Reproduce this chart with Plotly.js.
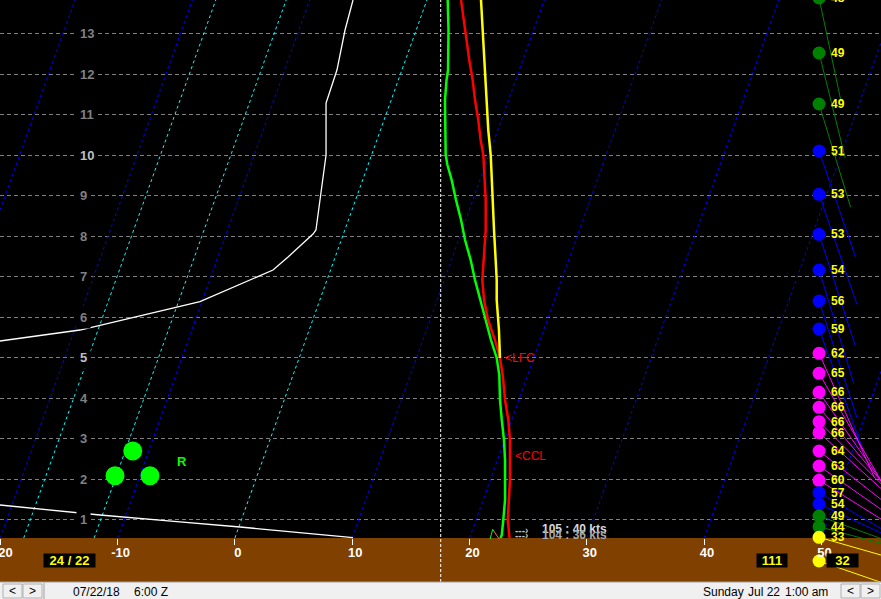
<!DOCTYPE html>
<html><head><meta charset="utf-8">
<script src="https://cdn.plot.ly/plotly-3.0.1.min.js"></script>
<style>html,body{margin:0;padding:0;background:#000;overflow:hidden;width:881px;height:599px}#chart{width:881px;height:619px;margin-top:-20px}</style>
</head><body><div id="chart"></div>
<script>
// ---------- data ----------
const xTickVals = [-20,-10,0,10,20,30,40,50];
const xTickText = ['-20','-10','0','10','20','30','40','50'];
const heightTicks = [1,2,3,4,5,6,7,8,9,10,11,12,13];
const isothermsBlue = [-30,-20,-10,10,20,30,40,50];
const isothermsCyan = [-18,-12,0];

const redH = [13.835,13.094,12.353,11.859,11.365,10.871,10.378,10.007,9.637,8.896,8.155,7.414,6.920,6.426,5.932,5.438,4.994,4.574,3.957,3.463,2.969,1.975,1.487,0.993,0.622,0.548];
const redX = [19.28,19.62,19.98,20.27,20.47,20.75,20.95,21.18,21.26,21.38,21.38,21.18,21.09,21.24,21.58,22.17,22.60,22.83,23.03,23.31,23.45,23.45,23.37,23.26,23.39,23.41];

const greenH = [13.835,13.094,12.106,11.859,11.365,10.131,10.007,9.760,9.390,8.896,8.402,7.908,7.414,6.920,6.426,5.932,5.438,4.994,4.574,3.957,3.463,2.969,2.469,1.487,0.993,0.622,0.548];
const greenX = [18.14,18.21,18.17,18.04,17.91,17.91,17.97,18.12,18.48,18.85,19.28,19.62,20.10,20.47,20.90,21.38,21.83,22.32,22.54,22.60,22.75,22.94,23.03,23.03,22.88,22.75,22.64];

const yellowH = [13.835,13.094,12.106,11.365,10.624,10.007,9.390,8.896,8.155,7.414,6.920,6.426,5.685,4.994];
const yellowX = [20.98,21.13,21.32,21.47,21.60,21.81,21.89,21.98,22.09,22.23,22.32,22.32,22.51,22.60];

const whiteLowH = [1.363,1.116,0.951,0.820,0.556];
const whiteLowX = [-20.03,-11.50,-4.94,0.43,10.07];
const whiteUpH = [5.414,5.685,6.384,7.167,7.488,8.056,8.155,8.896,9.563,10.007,11.291,11.439,12.106,13.094,13.835];
const whiteUpX = [-20.03,-13.21,-2.98,3.25,4.53,6.66,6.91,7.25,7.51,7.77,7.77,7.94,8.70,9.39,10.07];

const rainX = [-8.71,-10.22,-7.24];
const rainH = [2.697,2.087,2.087];

const parcelMarkGreenX = [21.75,21.98], parcelMarkGreenH = [0.516,0.763];
const parcelMarkRedX = [21.98,22.54], parcelMarkRedH = [0.763,0.516];

const windH = [13.885,12.527,11.267,10.106,9.037,8.049,7.167,6.402,5.710,5.110,4.616,4.147,3.776,3.421,3.149,2.697,2.327,1.973,1.667,1.388,1.092,0.827,0.566,-0.020];
const windSpd = [48,49,49,51,53,53,54,56,59,62,65,66,66,66,66,64,63,60,57,54,49,44,33,32];
const windAng = [78,76,73,71,71,72,73,72,70,66,60,55,50,45,42,38,35,32,30,25,20,15,16,19];
const windColX = 49.8;

// ---------- layout calibration ----------
const W = 881, VIS_H = 599, CUT = 20, H = VIS_H + CUT;   // top CUT px of the figure lie above the window
const PX0 = 234.9, PXK = 11.73;            // page px = PX0 + PXK * x
const PY0 = 560.2, PYK = 40.49;            // page py = PY0 - PYK * h
const XMIN = (0 - PX0) / PXK, XMAX = (W - PX0) / PXK;
const YMIN = (PY0 - VIS_H) / PYK, YMAX = (PY0 + CUT) / PYK;
const GROUND = 0.548, GROUND_TOP = 13.835;
const SKEW = 1.232;
const FONT = 'Liberation Sans, Arial, sans-serif';
const px2x = p => (p - PX0) / PXK;
const pyPaper = p => 1 - (p + CUT) / H;

function isoTrace(temps, color) {
  const x = [], y = [];
  temps.forEach(t => { x.push(t, t + SKEW * (YMAX - GROUND), null); y.push(GROUND, YMAX, null); });
  return {x, y, mode: 'lines', line: {color, width: 1, dash: '3px,3px'}, hoverinfo: 'skip'};
}
function spdColor(s) { return s < 40 ? '#ffff00' : s < 50 ? '#008000' : s < 60 ? '#0000ff' : '#ff00ff'; }

const traces = [];
traces.push(isoTrace(isothermsBlue, '#0000ff'));
traces.push(isoTrace(isothermsCyan, '#00ffff'));
traces.push({x: whiteLowX, y: whiteLowH, mode: 'lines', line: {color: '#ffffff', width: 1.3}});
traces.push({x: whiteUpX, y: whiteUpH, mode: 'lines', line: {color: '#ffffff', width: 1.3}});

const stickGroups = {};
windH.forEach((h, i) => {
  const c = spdColor(windSpd[i]);
  const L = 2.2 * windSpd[i];
  const a = windAng[i] * Math.PI / 180;
  const g = stickGroups[c] || (stickGroups[c] = {x: [], y: []});
  g.x.push(windColX, windColX + L * Math.cos(a) / PXK, null);
  g.y.push(h, h - L * Math.sin(a) / PYK, null);
});
Object.keys(stickGroups).forEach(c => traces.push({x: stickGroups[c].x, y: stickGroups[c].y, mode: 'lines', line: {color: c, width: 1}}));

traces.push({x: greenX, y: greenH, mode: 'lines', line: {color: '#00ff00', width: 2.5}});
traces.push({x: redX, y: redH, mode: 'lines', line: {color: '#ff0000', width: 2.5}});
traces.push({x: yellowX, y: yellowH, mode: 'lines', line: {color: '#ffff00', width: 2.5}});
traces.push({x: parcelMarkGreenX, y: parcelMarkGreenH, mode: 'lines', line: {color: '#00ff00', width: 1}});
traces.push({x: parcelMarkRedX, y: parcelMarkRedH, mode: 'lines', line: {color: '#ff6060', width: 1}});
traces.push({x: rainX, y: rainH, mode: 'markers', marker: {color: '#00ff00', size: 19, line: {width: 0}}});
traces.push({x: windH.map(() => windColX), y: windH, mode: 'markers', cliponaxis: false,
  marker: {color: windSpd.map(spdColor), size: 13, line: {width: 0}}});

// ---------- annotations ----------
const ann = [];
heightTicks.forEach(h => ann.push({xref: 'paper', yref: 'y', x: 76 / W, y: h, xanchor: 'left', yanchor: 'middle',
  text: String(h), showarrow: false, bgcolor: '#000000', borderpad: 3,
  font: {family: FONT, size: 13, weight: 'bold', color: (h === 5 || h === 10) ? '#c0c0c0' : '#808080'}}));
windH.forEach((h, i) => {
  if (i === windH.length - 1) return;
  ann.push({xref: 'x', yref: 'y', x: windColX, y: h, xshift: 11, xanchor: 'left', yanchor: 'middle',
    text: String(windSpd[i]), showarrow: false, borderpad: 0,
    font: {family: FONT, size: 12, weight: 'bold', color: '#ffff00'}});
});
function boxLabel(cx, cy, w, text) {
  ann.push({xref: 'paper', yref: 'paper', x: cx / W, y: pyPaper(cy), xanchor: 'center', yanchor: 'middle',
    text, showarrow: false, bgcolor: '#000000', width: w, height: 13, borderpad: 0, align: 'center',
    font: {family: FONT, size: 13, weight: 'bold', color: '#ffff00'}});
}
boxLabel(69.5, 560.5, 51, '24 / 22');
boxLabel(772, 560.5, 30, '111');
boxLabel(842.5, 560.5, 31, String(windSpd[windSpd.length - 1]));

function pText(x, y, text, color, size, weight, anchor) {
  ann.push({xref: 'paper', yref: 'paper', x: x / W, y: pyPaper(y), xanchor: anchor || 'left', yanchor: 'middle',
    text, showarrow: false, borderpad: 0, font: {family: FONT, size, weight: weight || 'normal', color}});
}
pText(504, 358, '&lt;LFC', '#ff0000', 12);
pText(514, 456, '&lt;CCL', '#ff0000', 12);
pText(176, 461, 'R', '#00ff00', 13, 'bold');
pText(514, 530, '---›', '#c0c0c0', 10, 'bold');
pText(514, 535, '---›', '#c0c0c0', 10, 'bold');
pText(541, 529, '105 : 40 kts', '#d8d8d8', 12, 'bold');
pText(541, 535, '104 : 36 kts', '#a8a8a8', 12, 'bold');
pText(72, 591.5, '07/22/18', '#000000', 12);
pText(133, 591.5, '6:00 Z', '#000000', 12);
pText(702, 591.5, 'Sunday', '#000000', 12);
pText(747, 591.5, 'Jul 22', '#000000', 12);
pText(784, 591.5, '1:00 am', '#000000', 12);
pText(12.5, 591, '&lt;', '#000000', 12, 'normal', 'center');
pText(32.5, 591, '&gt;', '#000000', 12, 'normal', 'center');
pText(850.5, 591, '&lt;', '#000000', 12, 'normal', 'center');
pText(870.5, 591, '&gt;', '#000000', 12, 'normal', 'center');

// ---------- shapes ----------
const shapes = [
  {type: 'rect', layer: 'below', xref: 'paper', yref: 'y', x0: 0, x1: 1, y0: YMIN, y1: GROUND, fillcolor: '#804000', line: {width: 0}},
  {type: 'line', layer: 'above', xref: 'paper', yref: 'paper', x0: 440.7 / W, x1: 440.7 / W, y0: pyPaper(582), y1: 1, line: {color: '#ffffff', width: 1, dash: '3px,2px'}},
  {type: 'rect', layer: 'above', xref: 'paper', yref: 'paper', x0: 0, x1: 1, y0: 0, y1: pyPaper(582), fillcolor: '#f0f0f0', line: {width: 0}},
  {type: 'line', layer: 'above', xref: 'paper', yref: 'paper', x0: 0, x1: 1, y0: pyPaper(582), y1: pyPaper(582), line: {color: '#a0a0a0', width: 1}},
  {type: 'line', layer: 'above', xref: 'paper', yref: 'paper', x0: 44 / W, x1: 44 / W, y0: 0, y1: pyPaper(583), line: {color: '#a0a0a0', width: 1}}
];
[[3, 22], [23, 42], [841, 860], [861, 880]].forEach(b => shapes.push({type: 'rect', layer: 'above', xref: 'paper', yref: 'paper',
  x0: b[0] / W, x1: b[1] / W, y0: pyPaper(598), y1: pyPaper(584), fillcolor: 'rgba(0,0,0,0)', line: {color: '#b0b0b0', width: 1}}));

const layout = {
  width: W, height: H,
  margin: {l: 0, r: 0, t: 0, b: 0, pad: 0},
  paper_bgcolor: '#000000', plot_bgcolor: '#000000',
  showlegend: false,
  font: {family: FONT},
  xaxis: {range: [XMIN, XMAX], anchor: 'free', position: (VIS_H - 538) / H, showgrid: false, zeroline: false, showline: false,
    ticks: 'outside', ticklen: 6, tickwidth: 1, tickcolor: '#ffffff', tickvals: xTickVals, ticktext: xTickText,
    ticklabelshift: 3, ticklabelstandoff: -4, ticklabeloverflow: 'allow',
    tickfont: {family: FONT, size: 13, weight: 'bold', color: '#ffffff'}, fixedrange: true},
  yaxis: {range: [YMIN, YMAX], tickvals: heightTicks, showticklabels: false, ticks: '', showgrid: true,
    gridcolor: '#808080', gridwidth: 1, griddash: '4px,3px', zeroline: false, showline: false, fixedrange: true},
  shapes, annotations: ann
};
Plotly.newPlot('chart', traces, layout, {staticPlot: true, displayModeBar: false});
</script></body></html>
